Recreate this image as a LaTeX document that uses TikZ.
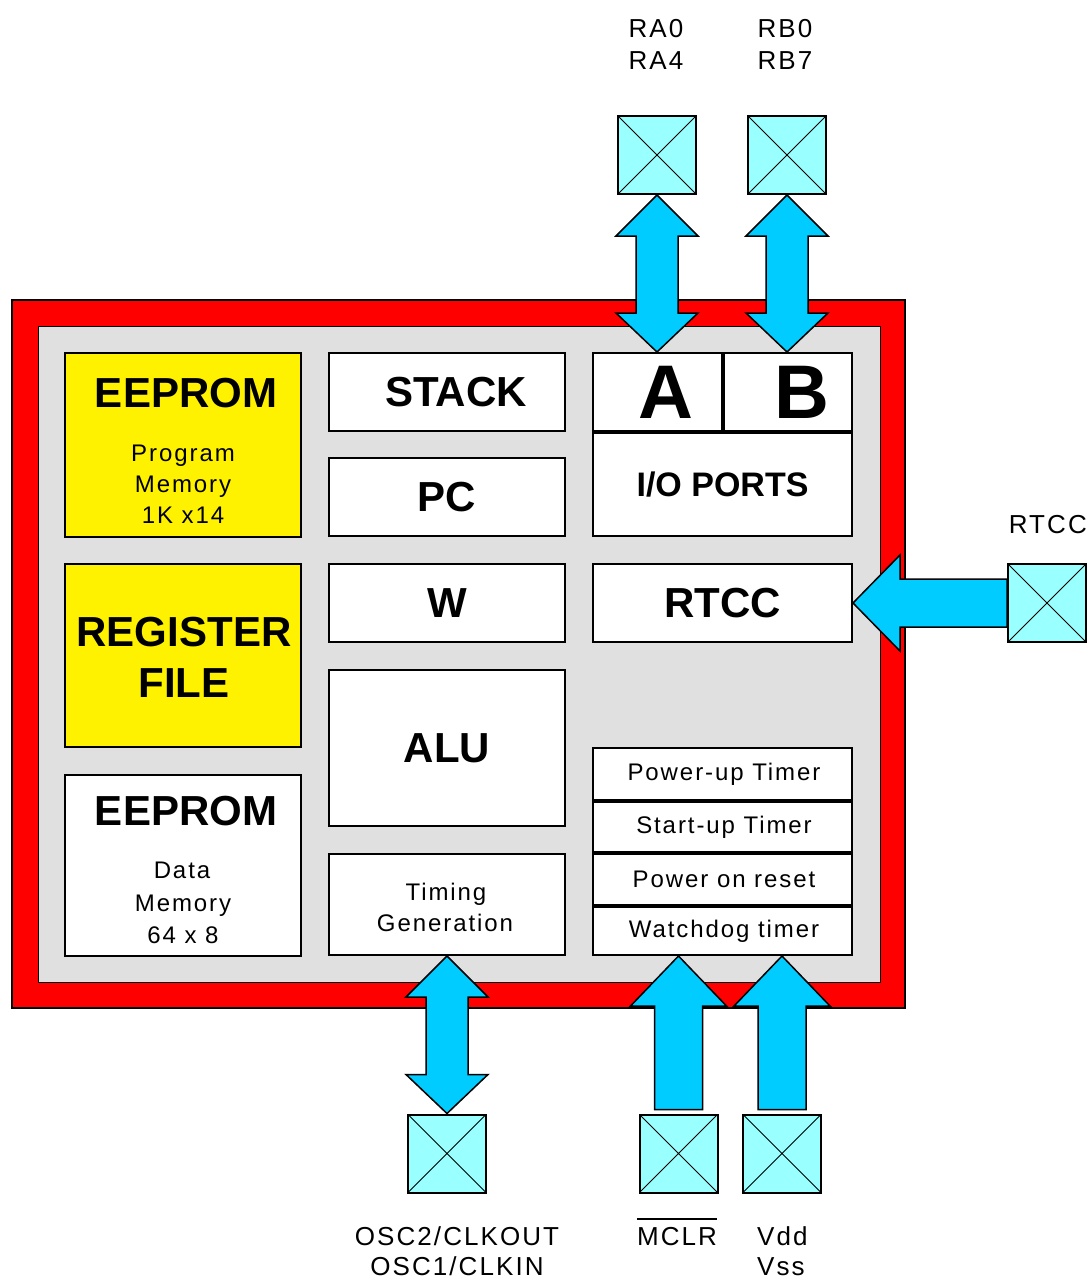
\documentclass[tikz,border=0pt]{standalone}
\usepackage{fontspec}
\setmainfont{Liberation Sans}
\newfontfamily\padfont[LetterSpace=8]{Liberation Sans}
\definecolor{chipgray}{RGB}{224,224,224}
\definecolor{busblue}{RGB}{0,204,255}
\definecolor{padcyan}{RGB}{153,255,255}
\newcommand\dblbus[2]{\filldraw[bus] (#1) -- ([shift={(41,41)}]#1) -- ([shift={(21,41)}]#1)
  -- ([shift={(21,-39)}]#2) -- ([shift={(41,-39)}]#2) -- (#2)
  -- ([shift={(-41,-39)}]#2) -- ([shift={(-21,-39)}]#2)
  -- ([shift={(-21,41)}]#1) -- ([shift={(-41,41)}]#1) -- cycle;}
\newcommand\upbus[2]{\filldraw[bus] (#1) -- ([shift={(48,50)}]#1) -- ([shift={(24,50)}]#1)
  -- ([shift={(24,-4)}]#2) -- ([shift={(-24,-4)}]#2)
  -- ([shift={(-24,50)}]#1) -- ([shift={(-48,50)}]#1) -- cycle;}

\begin{document}
\begin{tikzpicture}[x=1pt,y=-1pt,
  blk/.style={draw=black,line width=2pt,fill=white,minimum width=236,minimum height=78,inner sep=0pt},
  mem/.style={blk,fill=yellow},
  big/.style={font=\bfseries\fontsize{42}{48}\selectfont},
  small/.style={font=\padfont\fontsize{24}{30}\selectfont},
  pin/.style={font=\padfont\fontsize{26}{32}\selectfont},
  txt/.style={inner sep=0pt,anchor=base},
  bus/.style={fill=busblue,draw=black,line width=1.5pt,line join=miter},
  pad/.style={draw=black,line width=2pt,fill=padcyan,minimum size=78,inner sep=0pt,
    path picture={\draw[line width=1pt] (path picture bounding box.north west) -- (path picture bounding box.south east)
      (path picture bounding box.north east) -- (path picture bounding box.south west);}}]
\useasboundingbox (0,0) rectangle (1088,1280);
\filldraw[fill=red,draw=black,line width=2pt] (12,300) rectangle (905,1008);
\filldraw[fill=chipgray,draw=black,line width=1pt] (38,326) rectangle (880,982);

\node[mem,minimum height=184] (prog) at (183,445) {};
\node[big,txt] (progt) at (186,407) {EEPROM};
\node[small,txt] (progs1) at (183,461) {Program};
\node[small,txt] (progs2) at (183,492) {Memory};
\node[small,txt] (progs3) at (183,523) {1K x14};
\node[mem,minimum height=183] (regf) at (183,655.5) {};
\node[big,txt] (regt1) at (184,646) {REGISTER};
\node[big,txt] (regt2) at (184,697) {FILE};
\node[blk,minimum height=181] (data) at (183,865.5) {};
\node[big,txt] (datat) at (186,825) {EEPROM};
\node[small,txt] (datas1) at (182,878) {Data};
\node[small,txt] (datas2) at (183,911) {Memory};
\node[small,txt] (datas3) at (183,943) {64 x 8};

\node[blk,big] (stack) at (447,392) {\hspace{18pt}STACK};
\node[blk,big] (pc) at (447,497) {PC};
\node[blk,big] (w) at (447,603) {W};
\node[blk,big,minimum height=156] (alu) at (447,748) {ALU};
\node[blk,minimum height=101] (timing) at (447,904.5) {};
\node[small,txt] (timt1) at (446,900) {Timing};
\node[small,txt] (timt2) at (445,931) {Generation};

\node[blk,minimum width=129,font=\bfseries\fontsize{76}{80}\selectfont] (porta) at (657.5,392) {\hspace{17pt}A};
\node[blk,minimum width=128,font=\bfseries\fontsize{76}{80}\selectfont] (portb) at (788,392) {\hspace{28pt}B};
\node[blk,minimum width=259,minimum height=103,font=\bfseries\fontsize{34}{40}\selectfont] (ioports) at (722.5,484.5) {I/O PORTS};
\node[blk,big,minimum width=259] (rtcc) at (722.5,603) {RTCC};
\node[blk,small,minimum width=259,minimum height=52] (pwrup) at (722.5,774) {\hspace{3pt}Power-up Timer};
\node[blk,small,minimum width=259,minimum height=50] (strtup) at (722.5,827) {\hspace{3pt}Start-up Timer};
\node[blk,small,minimum width=259,minimum height=51] (por) at (722.5,879.5) {\hspace{3pt}Power on reset};
\node[blk,small,minimum width=259,minimum height=48] (wdog) at (722.5,931) {\hspace{3pt}Watchdog timer};

\node[pad] (ra) at (657,155) {};
\node[pad] (rb) at (787,155) {};
\node[pad] (rtccpad) at (1047,603) {};
\node[pad] (osc) at (447,1153.5) {};
\node[pad] (mclr) at (678.5,1153.5) {};
\node[pad] (vdd) at (782,1153.5) {};

\coordinate (ratip) at (ra.south |- porta.north);
\coordinate (rbtip) at (rb.south |- portb.north);
\coordinate (mclrtip) at (mclr.north |- wdog.south);
\coordinate (vddtip) at (vdd.north |- wdog.south);
\dblbus{ra.south}{ratip}
\dblbus{rb.south}{rbtip}
\dblbus{timing.south}{osc.north}
\upbus{mclrtip}{mclr.north}
\upbus{vddtip}{vdd.north}
\filldraw[bus] (rtcc.east) -- ([shift={(47,-48)}]rtcc.east) -- ([shift={(47,-24)}]rtcc.east)
  -- ([shift={(0,-24)}]rtccpad.west) -- ([shift={(0,24)}]rtccpad.west)
  -- ([shift={(47,24)}]rtcc.east) -- ([shift={(47,48)}]rtcc.east) -- cycle;

\node[pin,txt] (ra0) at (656,37) {RA0};
\node[pin,txt] (ra4) at (656,69) {RA4};
\node[pin,txt] (rb0) at (785,37) {RB0};
\node[pin,txt] (rb7) at (785,69) {RB7};
\node[pin,txt,anchor=base east] (rtccl) at (1087,533) {RTCC};
\node[pin,txt] (osc2) at (457,1245) {OSC2/CLKOUT};
\node[pin,txt] (osc1) at (457,1275) {OSC1/CLKIN};
\node[pin,txt] (mclrl) at (677,1245) {MCLR};
\draw[line width=2pt] ([yshift=8pt]mclrl.north west) -- ([yshift=8pt]mclrl.north east);
\node[pin,txt,anchor=base west] (vddl) at (757,1245) {Vdd};
\node[pin,txt,anchor=base west] (vssl) at (757,1275) {Vss};
\end{tikzpicture}
\end{document}
